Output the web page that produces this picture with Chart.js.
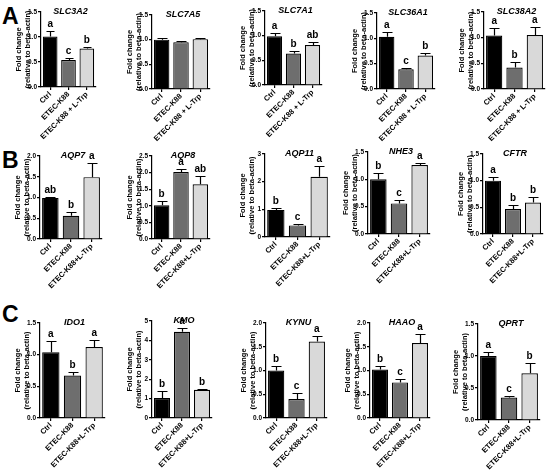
<!DOCTYPE html>
<html>
<head>
<meta charset="utf-8">
<script src="https://cdn.jsdelivr.net/npm/chart.js@4.4.0/dist/chart.umd.min.js"></script>
<style>
body { margin: 0; background: #fff; width: 550px; height: 476px; position: relative; overflow: hidden; font-family: Arial, "Liberation Sans", sans-serif; }
canvas { position: absolute; }
.panel { position: absolute; font-weight: bold; font-size: 23px; line-height: 1; color: #000; }
</style>
</head>
<body>
<div class="panel" style="left:2px;top:5px">A</div>
<div class="panel" style="left:2px;top:149px">B</div>
<div class="panel" style="left:2px;top:303px">C</div>
<script>
// Data
const groupsA = ['Ctrl', 'ETEC-K88', 'ETEC-K88 + L-Trp'];
const groupsBC = ['Ctrl', 'ETEC-K88', 'ETEC-K88+L-Trp'];
const genes = ['SLC3A2', 'SLC7A5', 'SLC7A1', 'SLC36A1', 'SLC38A2',
               'AQP7', 'AQP8', 'AQP11', 'NHE3', 'CFTR',
               'IDO1', 'KMO', 'KYNU', 'HAAO', 'QPRT'];
const means = [
    [1.01, 0.54, 0.77], [1.00, 0.95, 1.01], [0.99, 0.64, 0.81], [1.03, 0.39, 0.66], [1.04, 0.42, 1.05],
    [0.99, 0.56, 1.49], [1.02, 2.02, 1.65], [0.98, 0.42, 2.18], [1.00, 0.56, 1.26], [1.00, 0.47, 0.59],
    [1.04, 0.67, 1.12], [1.03, 4.44, 1.45], [1.00, 0.40, 1.61], [1.02, 0.75, 1.58], [1.00, 0.35, 0.73]
];
const sems = [
    [0.10, 0.03, 0.02], [0.04, 0.02, 0.03], [0.06, 0.04, 0.07], [0.10, 0.03, 0.06], [0.15, 0.11, 0.15],
    [0.02, 0.08, 0.34], [0.12, 0.09, 0.24], [0.06, 0.05, 0.40], [0.11, 0.06, 0.03], [0.07, 0.08, 0.10],
    [0.17, 0.05, 0.11], [0.34, 0.22, 0.05], [0.10, 0.12, 0.11], [0.08, 0.07, 0.18], [0.07, 0.02, 0.16]
];
const letters = [
    ['a', 'c', 'b'], ['', '', ''], ['a', 'b', 'ab'], ['a', 'c', 'b'], ['a', 'b', 'a'],
    ['ab', 'b', 'a'], ['b', 'a', 'ab'], ['b', 'c', 'a'], ['b', 'c', 'a'], ['a', 'b', 'b'],
    ['a', 'b', 'a'], ['b', 'a', 'b'], ['b', 'c', 'a'], ['b', 'c', 'a'], ['a', 'c', 'b']
];
const yMax = [1.5, 1.5, 1.5, 1.5, 1.5, 2.0, 2.5, 3, 1.5, 1.5, 1.5, 5, 2.0, 2.0, 1.5];
const yStep = [0.5, 0.5, 0.5, 0.5, 0.5, 0.5, 0.5, 1, 0.5, 0.5, 0.5, 1, 0.5, 0.5, 0.5];

// Layout: plot box per chart [yAxisX, topY, rightX, zeroY]
const boxes = [
    [41, 12, 96, 87], [152, 15, 210, 89], [265, 11, 322, 85], [377, 13, 435, 89], [484, 12, 545, 89],
    [40, 156, 102, 239], [152, 156, 210, 239], [265, 154, 330, 237], [368, 152, 430, 234], [483, 154, 543, 234],
    [40, 323, 105, 418], [152, 321, 212, 418], [266, 323, 327, 418], [370, 323, 430, 418], [478, 324, 540, 420]
];

const FONT = 'Arial, "Liberation Sans", sans-serif';
const barColors = ['#000000', '#6e6e6e', '#d9d9d9'];
const L = 26, T = 12, R = 3, B = 56;

function marksPlugin(i) {
    return {
        id: 'marks' + i,
        afterDatasetsDraw(chart) {
            const ctx = chart.ctx;
            const y = chart.scales.y;
            const bars = chart.getDatasetMeta(0).data;
            ctx.save();
            ctx.strokeStyle = '#000';
            ctx.fillStyle = '#000';
            ctx.lineWidth = 1.2;
            bars.forEach((bar, j) => {
                const top = Math.round(y.getPixelForValue(means[i][j] + sems[i][j])) + 0.5;
                const x = Math.round(bar.x) + 0.5;
                const half = Math.round(bar.width * 0.3);
                ctx.beginPath();
                ctx.moveTo(x, bar.y);
                ctx.lineTo(x, top);
                ctx.moveTo(x - half, top);
                ctx.lineTo(x + half, top);
                ctx.stroke();
                if (letters[i][j]) {
                    ctx.font = 'bold 10px ' + FONT;
                    ctx.textAlign = 'center';
                    ctx.textBaseline = 'bottom';
                    ctx.fillText(letters[i][j], bar.x, top - 2);
                }
            });
            const area = chart.chartArea;
            ctx.font = 'italic bold 9px ' + FONT;
            ctx.textAlign = 'center';
            ctx.textBaseline = 'middle';
            ctx.fillText(genes[i], (area.left + area.right) / 2 + 2, area.top);
            ctx.restore();
        }
    };
}

genes.forEach((gene, i) => {
    const [ax, ty, rx, by] = boxes[i];
    const c = document.createElement('canvas');
    const w = rx - ax + L + R;
    const h = by - ty + T + B;
    c.width = w;
    c.height = h;
    c.style.left = (ax - L) + 'px';
    c.style.top = (ty - T) + 'px';
    document.body.appendChild(c);

    const dec = yStep[i] < 1 ? 1 : 0;
    new Chart(c, {
        type: 'bar',
        data: {
            labels: i < 5 ? groupsA : groupsBC,
            datasets: [{
                data: means[i],
                backgroundColor: barColors,
                borderColor: '#000',
                borderWidth: 1.2,
                categoryPercentage: 1,
                barPercentage: 0.8
            }]
        },
        options: {
            responsive: false,
            animation: false,
            layout: { padding: { top: T, right: R, left: 0, bottom: 0 } },
            plugins: { legend: { display: false }, tooltip: { enabled: false } },
            scales: {
                x: {
                    grid: { drawOnChartArea: false, offset: false, tickLength: 3, color: '#000', lineWidth: 1.2 },
                    border: { color: '#000', width: 1.2 },
                    ticks: {
                        color: '#000', autoSkip: false, minRotation: 45, maxRotation: 45, padding: 0,
                        font: { family: FONT, size: 7.5, weight: 'bold' }
                    },
                    afterFit: s => { s.height = B; s.paddingLeft = 0; s.paddingRight = 0; }
                },
                y: {
                    min: 0,
                    max: yMax[i],
                    grid: { drawOnChartArea: false, tickLength: 3, color: '#000', lineWidth: 1.2 },
                    border: { color: '#000', width: 1.2 },
                    ticks: {
                        stepSize: yStep[i], color: '#000', padding: 1,
                        font: { family: FONT, size: 6.5, weight: 'bold' },
                        callback: v => v.toFixed(dec)
                    },
                    title: {
                        display: true,
                        text: ['Fold change', '(relative to beta-actin)'],
                        color: '#000',
                        padding: 0,
                        font: { family: FONT, size: 7.5, weight: 'bold', lineHeight: 1.15 }
                    },
                    afterFit: s => { s.width = L; }
                }
            }
        },
        plugins: [marksPlugin(i)]
    });
});
</script>
</body>
</html>
